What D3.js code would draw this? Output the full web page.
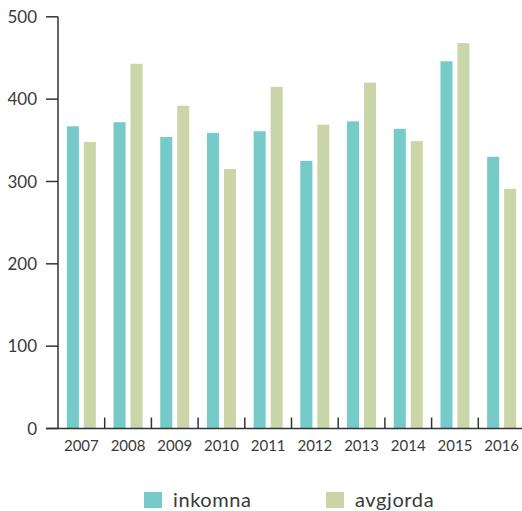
<!DOCTYPE html>
<html>
<head>
<meta charset="utf-8">
<script src="https://d3js.org/d3.v7.min.js"></script>
<style>
  body { margin: 0; background: #fff; }
  svg { display: block; font-family: Lato, "Open Sans", sans-serif; }
</style>
</head>
<body>
<script>
// data
var years = ["2007","2008","2009","2010","2011","2012","2013","2014","2015","2016"];
var seriesNames = ["inkomna", "avgjorda"];
var inkomna = [367, 372, 354, 359, 361, 325, 373, 364, 446, 330];
var avgjorda = [348, 443, 392, 315, 415, 369, 420, 349, 468, 291];
var yTicks = [0, 100, 200, 300, 400, 500];
var colors = ["#76cbc8", "#cad6a8"];

var width = 522, height = 511;
var svg = d3.select("body").append("svg")
  .attr("width", width)
  .attr("height", height);

var x = d3.scaleBand().domain(years).range([58, 525]).padding(0);
var xInner = d3.scaleBand().domain(seriesNames).range([0, x.bandwidth()])
  .paddingInner(0.29).paddingOuter(0.52);
var y = d3.scaleLinear().domain([0, 500]).range([428.5, 16.8]);
var color = d3.scaleOrdinal().domain(seriesNames).range(colors);

var rows = years.map(function(yr, i) {
  return { year: yr, values: [
    { name: "inkomna", value: inkomna[i] },
    { name: "avgjorda", value: avgjorda[i] }
  ]};
});

// bars
var groups = svg.selectAll(".year")
  .data(rows)
  .enter().append("g")
  .attr("class", "year")
  .attr("transform", function(d) { return "translate(" + x(d.year) + ",0)"; });

groups.selectAll("rect")
  .data(function(d) { return d.values; })
  .enter().append("rect")
  .attr("x", function(d) { return xInner(d.name); })
  .attr("width", xInner.bandwidth())
  .attr("y", function(d) { return y(d.value); })
  .attr("height", function(d) { return y(0) - y(d.value); })
  .attr("fill", function(d) { return color(d.name); });

// y axis
var axisColor = "#333";
var textColor = "#3a3a3a";
svg.append("line")
  .attr("x1", 58).attr("x2", 58)
  .attr("y1", y(500)).attr("y2", y(0))
  .attr("stroke", axisColor).attr("stroke-width", 1.5);

svg.selectAll(".ytick")
  .data(yTicks)
  .enter().append("line")
  .attr("x1", 46).attr("x2", 58)
  .attr("y1", function(d) { return y(d); })
  .attr("y2", function(d) { return y(d); })
  .attr("stroke", axisColor).attr("stroke-width", 1.5);

svg.selectAll(".ylabel")
  .data(yTicks)
  .enter().append("text")
  .attr("x", 37)
  .attr("y", function(d) { return y(d); })
  .attr("dy", "0.36em")
  .attr("text-anchor", "end")
  .attr("font-size", 17)
  .attr("fill", textColor)
  .text(function(d) { return d; });

// x axis
svg.append("line")
  .attr("x1", 46).attr("x2", width)
  .attr("y1", y(0)).attr("y2", y(0))
  .attr("stroke", axisColor).attr("stroke-width", 1.5);

svg.selectAll(".xtick")
  .data(years.slice(1))
  .enter().append("line")
  .attr("x1", function(d) { return x(d); })
  .attr("x2", function(d) { return x(d); })
  .attr("y1", y(0) - 11).attr("y2", y(0))
  .attr("stroke", axisColor).attr("stroke-width", 1.5);

svg.selectAll(".xlabel")
  .data(years)
  .enter().append("text")
  .attr("x", function(d) { return x(d) + x.bandwidth() / 2; })
  .attr("y", 451)
  .attr("text-anchor", "middle")
  .attr("font-size", 15)
  .attr("fill", textColor)
  .text(function(d) { return d; });

// legend
var legendX = [144, 326];
var legend = svg.selectAll(".legend")
  .data(seriesNames)
  .enter().append("g")
  .attr("class", "legend")
  .attr("transform", function(d, i) { return "translate(" + legendX[i] + ",492)"; });

legend.append("rect")
  .attr("width", 18).attr("height", 16)
  .attr("fill", function(d) { return color(d); });

legend.append("text")
  .attr("x", 29)
  .attr("y", 15)
  .attr("font-size", 20)
  .attr("letter-spacing", 0.6)
  .attr("fill", textColor)
  .text(function(d) { return d; });
</script>
</body>
</html>
